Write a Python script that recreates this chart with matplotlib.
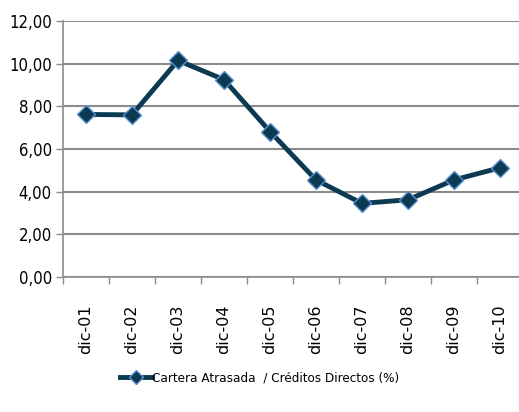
import matplotlib
matplotlib.use("Agg")
import matplotlib.pyplot as plt
from matplotlib import font_manager
import numpy as np

categories = ["dic-01", "dic-02", "dic-03", "dic-04", "dic-05",
              "dic-06", "dic-07", "dic-08", "dic-09", "dic-10"]
ratio = [7.62, 7.60, 10.15, 9.25, 6.82, 4.55, 3.45, 3.62, 4.55, 5.12]
y_ticks = [0, 2, 4, 6, 8, 10, 12]
y_labels = ["0,00", "2,00", "4,00", "6,00", "8,00", "10,00", "12,00"]
series_name = "Cartera Atrasada  / Créditos Directos (%)"

# narrow look, like the Calibri in the original
cond = [f.fname for f in font_manager.fontManager.ttflist
        if f.name == "DejaVu Sans" and "Condensed" in f.fname and "Bold" not in f.fname
        and "Oblique" not in f.fname]
if cond:
    narrow = font_manager.FontProperties(fname=cond[0])
else:
    narrow = font_manager.FontProperties(family="DejaVu Sans")

LINE = "#0b3a52"
EDGE = "#5b8fd0"
GRID = "#8c8c8c"

fig = plt.figure(figsize=(5.19, 4.12), dpi=100)
ax = fig.add_axes([63 / 519, 135 / 412, 460 / 519, 256 / 412])

x = np.arange(len(categories))
ax.plot(x, ratio, color=LINE, linewidth=3.5, marker="D", markersize=9,
        markerfacecolor=LINE, markeredgecolor=EDGE, markeredgewidth=1.0,
        label=series_name, zorder=3)

ax.set_xlim(-0.5, len(categories) - 0.5)
ax.set_ylim(0, 12)
ax.set_yticks(y_ticks)
ax.set_yticklabels(y_labels)
for t in ax.get_yticklabels():
    t.set_fontproperties(narrow)
    t.set_fontsize(12)
ax.set_xticks(x)
ax.set_xticklabels(categories, rotation=90, fontsize=11.5)
ax.tick_params(axis="x", which="major", length=0, pad=20)
ax.set_xticks(np.arange(-0.5, len(categories)), minor=True)
ax.tick_params(axis="x", which="minor", length=5, color=GRID, width=1)
ax.tick_params(axis="y", length=5, color=GRID, width=1, pad=3)

ax.grid(axis="y", color=GRID, linewidth=1.5)
ax.set_axisbelow(True)
for s in ["top", "right"]:
    ax.spines[s].set_visible(False)
for s in ["left", "bottom"]:
    ax.spines[s].set_color(GRID)
    ax.spines[s].set_linewidth(1.2)

leg_font = narrow.copy()
leg_font.set_size(9.6)
fig.legend(loc="center", bbox_to_anchor=(0.5, 34 / 412), frameon=False,
           prop=leg_font, handlelength=2.4,
           handletextpad=0.05, markerscale=0.75)

fig.savefig("out.png", dpi=100)
